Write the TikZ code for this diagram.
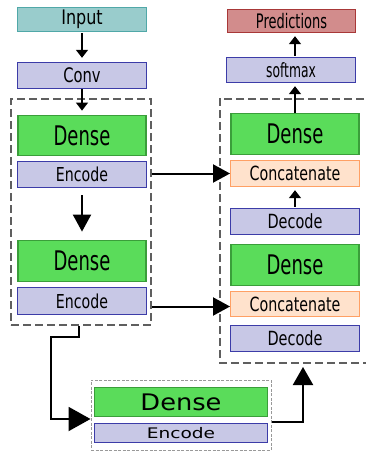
\documentclass[tikz,border=0pt]{standalone}
\usepackage{fontspec}
\setmainfont{DejaVu Sans}
\usetikzlibrary{arrows.meta,calc}
\definecolor{inpfill}{RGB}{153,204,204}
\definecolor{inpdraw}{RGB}{80,168,168}
\definecolor{lavfill}{RGB}{200,200,230}
\definecolor{lavdraw}{RGB}{60,60,168}
\definecolor{grnfill}{RGB}{90,220,90}
\definecolor{grndraw}{RGB}{58,158,58}
\definecolor{orfill}{RGB}{255,226,204}
\definecolor{ordraw}{RGB}{255,160,100}
\definecolor{predfill}{RGB}{210,140,140}
\definecolor{preddraw}{RGB}{168,56,56}
\definecolor{dashgray}{RGB}{95,95,95}
\newcommand{\Tx}[4]{{\fontsize{#1}{#1}\selectfont\scalebox{#2}[#3]{#4}}}
\tikzset{
  boxbase/.style={rectangle, inner sep=0pt, line width=1.4pt, minimum width=128.5pt},
  inpbox/.style={boxbase, fill=inpfill, draw=inpdraw},
  lavbox/.style={boxbase, fill=lavfill, draw=lavdraw},
  grnbox/.style={boxbase, fill=grnfill, draw=grndraw, line width=1.8pt},
  orbox/.style={boxbase, fill=orfill, draw=ordraw},
  predbox/.style={boxbase, fill=predfill, draw=preddraw},
  group/.style={rectangle, draw=dashgray, line width=1.5pt, dash pattern=on 8pt off 4pt, inner sep=0pt},
  groupline/.style={draw=dashgray, line width=1.5pt, dash pattern=on 8pt off 4pt},
  smallgroup/.style={rectangle, draw=gray!80, line width=1pt, dash pattern=on 3pt off 1.5pt, inner sep=0pt},
  smallarrow/.style={line width=1.5pt, -{Triangle[length=8pt,width=12pt]}},
  bigarrow/.style={line width=2pt, -{Triangle[length=17pt,width=18pt]}},
}
\begin{document}
\begin{tikzpicture}[x=1pt,y=-1pt]
\useasboundingbox (0,0) rectangle (366,451);
% group boxes
\node[group, minimum width=140pt, minimum height=226pt] (leftbox) at (81,212) {};
\node[inner sep=0pt, minimum width=180pt, minimum height=264pt] (rightbox) at (310,231) {};
\draw[groupline] (rightbox.north east) -- (rightbox.north west) -- (rightbox.south west) -- (rightbox.south east);
\node[smallgroup, minimum width=180pt, minimum height=70pt] (botbox) at (181,415) {};
% left column
\node[inpbox, minimum height=24pt] (input) at (82,19.5) {\Tx{16}{1.0}{1.25}{Input}};
\node[lavbox, minimum height=26pt] (conv) at (82,75.5) {\Tx{16}{0.92}{1.25}{Conv}};
\node[grnbox, minimum height=40pt] (denseA) at (82,135.5) {\Tx{20}{0.9}{1.35}{Dense}};
\node[lavbox, minimum height=26pt] (encA) at (82,174.5) {\Tx{16}{0.885}{1.2}{Encode}};
\node[grnbox, minimum height=41pt] (denseB) at (82,261) {\Tx{20}{0.9}{1.35}{Dense}};
\node[lavbox, minimum height=27pt] (encB) at (82,301) {\Tx{16}{0.885}{1.2}{Encode}};
% right column
\node[predbox, minimum height=23pt] (pred) at (291.5,21) {\Tx{16}{0.81}{1.25}{Predictions}};
\node[lavbox, minimum height=25pt] (soft) at (291,70) {\Tx{16}{0.77}{1.23}{softmax}};
\node[grnbox, minimum height=41pt] (denseC) at (295,134) {\Tx{20}{0.9}{1.35}{Dense}};
\node[orbox, minimum height=26pt] (catA) at (295,173.5) {\Tx{16}{0.89}{1.22}{Concatenate}};
\node[lavbox, minimum height=26pt] (decA) at (295,221.5) {\Tx{16}{0.905}{1.22}{Decode}};
\node[grnbox, minimum height=41pt] (denseD) at (295,265) {\Tx{20}{0.9}{1.35}{Dense}};
\node[orbox, minimum height=25pt] (catB) at (295,304) {\Tx{16}{0.89}{1.22}{Concatenate}};
\node[lavbox, minimum height=26pt] (decB) at (295,338.5) {\Tx{16}{0.905}{1.22}{Decode}};
% bottom
\node[grnbox, minimum width=173pt, minimum height=29pt] (denseE) at (181,402) {\Tx{24}{1.07}{0.95}{Dense}};
\node[lavbox, minimum width=173pt, minimum height=19pt] (encE) at (181,433) {\Tx{16}{1.16}{0.91}{Encode}};
% connectors
\draw[smallarrow, shorten <=1pt, shorten >=4pt] (input) -- (conv);
\draw[smallarrow, shorten >=4pt] (conv) -- (denseA);
\draw[bigarrow, shorten <=7pt, shorten >=8pt] (encA) -- (denseB);
\draw[bigarrow] (leftbox.east |- catA) -- (catA.west);
\draw[bigarrow] ([yshift=-2.5pt]leftbox.east |- catB) -- ([yshift=-2.5pt]catB.west);
\draw[smallarrow, shorten <=1pt, shorten >=3pt] (decA) -- (catA);
\draw[smallarrow, shorten >=3pt] (denseC.north) -- (denseC.north |- soft.south);
\draw[smallarrow, shorten <=1pt, shorten >=3pt] (denseC.north |- soft.north) -- (denseC.north |- pred.south);
\coordinate (elb) at (51,337);
\coordinate (rin) at (303,367);
\draw[line width=2pt, -{Triangle[length=22pt,width=24pt]}] ([xshift=-2pt]leftbox.south) |- (elb) |- ([yshift=-4pt]botbox.west);
\draw[line width=2pt, -{Triangle[length=18pt,width=20pt]}] ([yshift=-7pt]botbox.east) -| (rin);
\end{tikzpicture}
\end{document}
